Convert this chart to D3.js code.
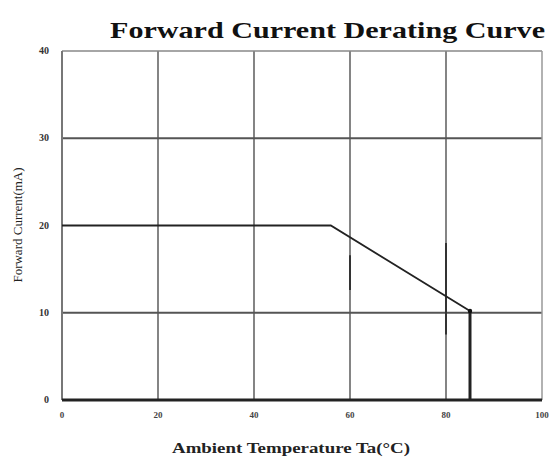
<!DOCTYPE html>
<html><head><meta charset="utf-8">
<script src="https://cdn.jsdelivr.net/npm/d3@7"></script>
<style>body{margin:0;background:#fff}svg{display:block}</style>
</head><body>
<script>
const xTicks = [0, 20, 40, 60, 80, 100];
const yTicks = [0, 10, 20, 30, 40];
const curveT = [0, 56, 85, 85];
const curveI = [20, 20, 10.2, 0];
const markT = [60, 80];
const markLo = [12.6, 7.5];
const markHi = [16.6, 18];

const W = 552, H = 462;
const svg = d3.select("body").append("svg").attr("width", W).attr("height", H);
const x = d3.scaleLinear().domain([0, 100]).range([62, 542]);
const y = d3.scaleLinear().domain([0, 40]).range([400, 51]);
const serif = "'Liberation Serif', 'Times New Roman', serif";

// vertical grid
svg.append("g").selectAll("line").data(xTicks.slice(1, -1)).join("line")
  .attr("x1", d => x(d)).attr("x2", d => x(d)).attr("y1", y(40)).attr("y2", y(0))
  .attr("stroke", "#666").attr("stroke-width", 1.6);
// horizontal grid (20 line only under flat section)
svg.append("g").selectAll("line").data([10, 30]).join("line")
  .attr("x1", x(0)).attr("x2", x(100)).attr("y1", d => y(d)).attr("y2", d => y(d))
  .attr("stroke", "#555").attr("stroke-width", 2);
// frame
svg.append("line").attr("x1", x(0)).attr("x2", x(100)).attr("y1", y(40)).attr("y2", y(40))
  .attr("stroke", "#888").attr("stroke-width", 1.5);
svg.append("line").attr("x1", x(0)).attr("x2", x(0)).attr("y1", y(40)).attr("y2", y(0))
  .attr("stroke", "#777").attr("stroke-width", 2);
svg.append("line").attr("x1", x(100)).attr("x2", x(100)).attr("y1", y(40)).attr("y2", y(0))
  .attr("stroke", "#999").attr("stroke-width", 1.5);
// dark marker segments
svg.append("g").selectAll("line").data(markT).join("line")
  .attr("x1", d => x(d)).attr("x2", d => x(d))
  .attr("y1", (d, i) => y(markHi[i])).attr("y2", (d, i) => y(markLo[i]))
  .attr("stroke", "#333").attr("stroke-width", 2);
// curve
const pts = curveT.map((t, i) => [t, curveI[i]]);
svg.append("path").datum(pts.slice(0, 3))
  .attr("d", d3.line().x(d => x(d[0])).y(d => y(d[1])))
  .attr("fill", "none").attr("stroke", "#222").attr("stroke-width", 1.8);
svg.append("path").datum(pts.slice(2))
  .attr("d", d3.line().x(d => x(d[0])).y(d => y(d[1])))
  .attr("fill", "none").attr("stroke", "#222").attr("stroke-width", 3);
svg.append("circle").attr("cx", x(curveT[2])).attr("cy", y(curveI[2])).attr("r", 2.2).attr("fill", "#111");
// bottom axis line
svg.append("line").attr("x1", x(0)).attr("x2", x(100)).attr("y1", y(0)).attr("y2", y(0))
  .attr("stroke", "#222").attr("stroke-width", 3);

// tick labels
svg.append("g").selectAll("text").data(xTicks).join("text")
  .attr("x", d => x(d)).attr("y", 418).attr("text-anchor", "middle")
  .attr("font-family", serif).attr("font-size", 9).attr("font-weight", "bold").attr("fill", "#444").text(d => d);
svg.append("g").selectAll("text").data(yTicks).join("text")
  .attr("x", 49).attr("y", d => y(d) + 3).attr("text-anchor", "end")
  .attr("font-family", serif).attr("font-size", 10).attr("font-weight", "bold").attr("fill", "#333").text(d => d);

// title
svg.append("text").attr("x", 110).attr("y", 38)
  .attr("textLength", 435).attr("lengthAdjust", "spacingAndGlyphs")
  .attr("font-family", serif).attr("font-size", 23).attr("font-weight", "bold").attr("fill", "#111")
  .text("Forward Current Derating Curve");
// axis titles
svg.append("text").attr("x", 172).attr("y", 453)
  .attr("textLength", 238).attr("lengthAdjust", "spacingAndGlyphs")
  .attr("font-family", serif).attr("font-size", 15).attr("font-weight", "bold").attr("fill", "#222")
  .text("Ambient Temperature Ta(°C)");
svg.append("text").attr("transform", "translate(22,225) rotate(-90)").attr("text-anchor", "middle")
  .attr("font-family", serif).attr("font-size", 13).attr("fill", "#222")
  .text("Forward Current(mA)");
</script>
</body></html>
